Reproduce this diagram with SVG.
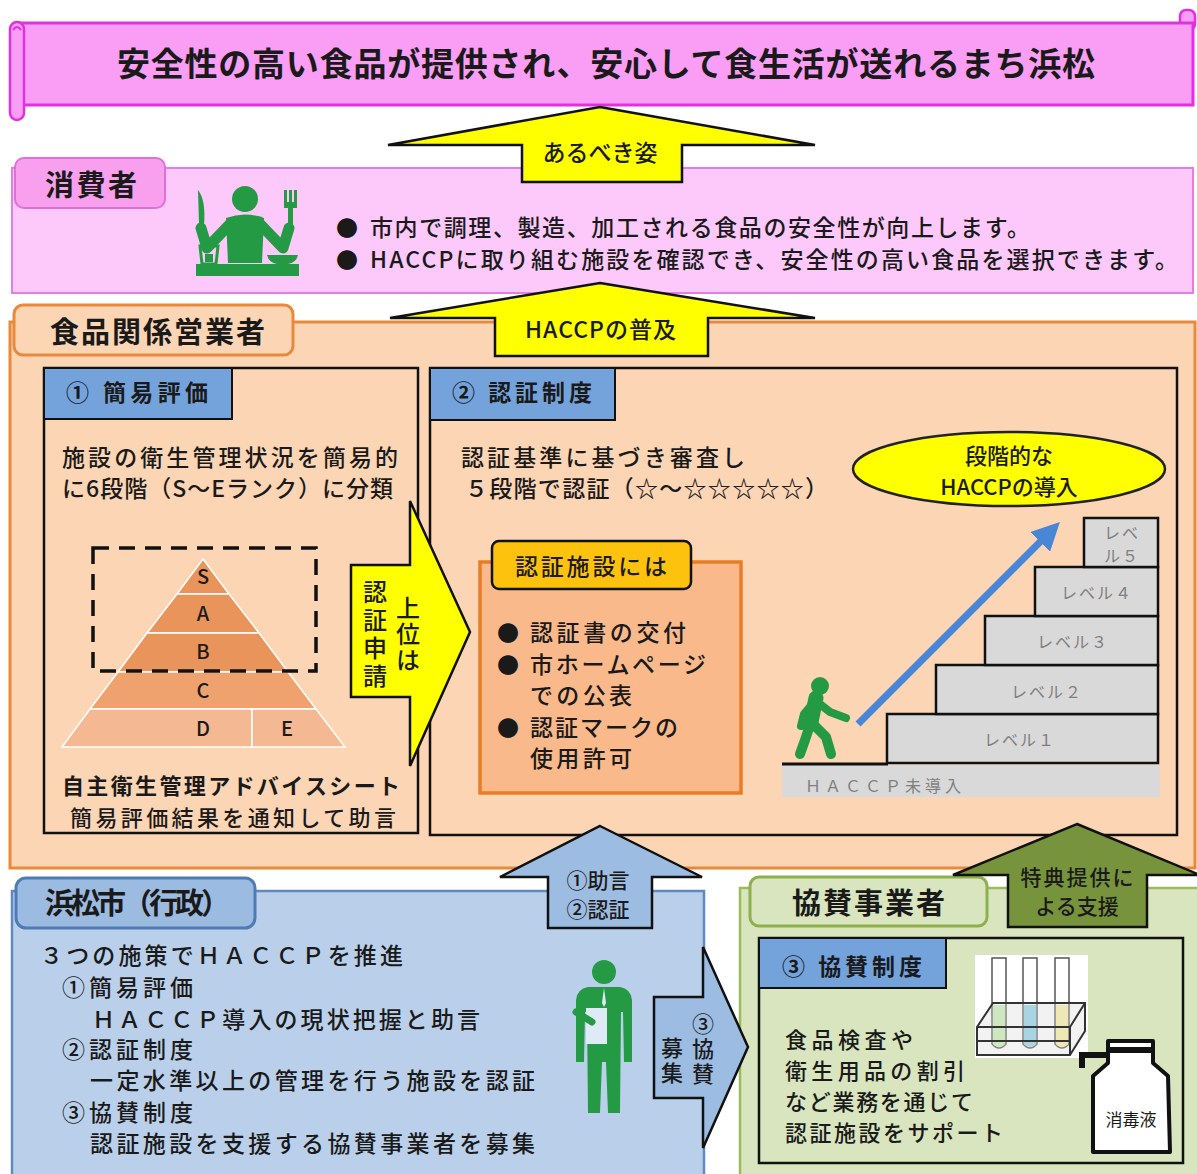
<svg xmlns="http://www.w3.org/2000/svg" width="1197" height="1174" viewBox="0 0 1197 1174">
<defs>
<style>
text{font-family:"Noto Sans CJK JP","Noto Sans",sans-serif;fill:#1a1a1a}
.b{font-weight:700}
.m{font-weight:500}
.tab{font-size:29px;font-weight:700}
.hd{font-size:23px;font-weight:700}
.body{font-size:23px;font-weight:500}
.vt{writing-mode:vertical-rl;font-weight:500}
.lv{font-size:16px;fill:#7f7f7f;font-weight:400}
.pict{fill:#259a45}
.arrowY{fill:#ffff00;stroke:#111;stroke-width:2.5;stroke-linejoin:miter}
.arrowB{fill:#9dbce2;stroke:#111;stroke-width:2.5}
.hdbox{fill:#74a3dc;stroke:#111;stroke-width:2}
.frame{fill:none;stroke:#111;stroke-width:2.5}
.step{fill:#d9d9d9;stroke:#111;stroke-width:2.5}
</style>
<marker id="ah" viewBox="0 0 10 10" refX="6" refY="5" markerWidth="4" markerHeight="4" orient="auto">
<path d="M0 0 L10 5 L0 10 Z" fill="#4a86d6"/>
</marker>
</defs>
<rect width="1197" height="1174" fill="#ffffff"/>

<!-- vision banner (scroll) -->
<g id="vision">
<rect x="1180" y="10" width="15" height="20" rx="6" fill="#f99ef4" stroke="#e030e0" stroke-width="2.5"/>
<rect x="18" y="23" width="1175" height="82" fill="#f99ef4" stroke="#e030e0" stroke-width="3"/>
<rect x="10" y="22" width="14" height="98" rx="7" fill="#f99ef4" stroke="#e030e0" stroke-width="2.5"/>
<path d="M13 30 Q17 24 21 30" fill="none" stroke="#e030e0" stroke-width="2"/>
<text x="606" y="76" font-size="33" class="b" text-anchor="middle" textLength="978" lengthAdjust="spacing">安全性の高い食品が提供され、安心して食生活が送れるまち浜松</text>
</g>

<!-- consumers -->
<g id="consumer">
<rect x="12" y="168" width="1181" height="125" fill="#fdc9fb" stroke="#e080e0" stroke-width="2"/>
<rect x="15" y="158" width="150" height="50" rx="9" fill="#f8a0ee" stroke="#e070d8" stroke-width="2"/>
<text x="45" y="196" class="tab" textLength="92" lengthAdjust="spacing">消費者</text>
<g class="pict">
<circle cx="245" cy="199" r="13"/>
<path d="M226 218 Q245 211 264 218 L262 263 L228 263 Z"/>
<path d="M230 224 L207 248 L201 228" fill="none" stroke="#259a45" stroke-width="11" stroke-linejoin="round" stroke-linecap="round"/>
<path d="M260 224 L283 248 L289 228" fill="none" stroke="#259a45" stroke-width="11" stroke-linejoin="round" stroke-linecap="round"/>
<path d="M198 190 Q206 200 204 225 L199 225 Z"/>
<rect x="284" y="190" width="3" height="14"/><rect x="289" y="190" width="3" height="14"/><rect x="294" y="190" width="3" height="14"/>
<rect x="284" y="202" width="13" height="6"/><rect x="288" y="206" width="5" height="20"/>
<rect x="196" y="264" width="103" height="12"/>
<path d="M200 246 L218 246 L216 264 L202 264 Z" fill="none" stroke="#259a45" stroke-width="3"/>
<rect x="205" y="254" width="8" height="8"/>
<path d="M267 255 L298 255 Q296 263 288 264 L277 264 Q269 263 267 255 Z"/>
</g>
<text x="336" y="236" font-size="22">●</text>
<text x="370" y="236" class="body" textLength="660" lengthAdjust="spacing">市内で調理、製造、加工される食品の安全性が向上します。</text>
<text x="336" y="268" font-size="22">●</text>
<text x="370" y="268" class="body" textLength="808" lengthAdjust="spacing">HACCPに取り組む施設を確認でき、安全性の高い食品を選択できます。</text>
</g>

<!-- food business operators -->
<g id="business">
<rect x="10" y="322" width="1185" height="546" fill="#fcd5b4" stroke="#e8893b" stroke-width="3"/>
<rect x="14" y="305" width="279" height="50" rx="9" fill="#fcd5b4" stroke="#e8893b" stroke-width="3"/>
<text x="50" y="343" class="tab" textLength="215" lengthAdjust="spacing">食品関係営業者</text>
</g>

<!-- (1) simple evaluation -->
<g id="eval">
<rect x="44" y="368" width="374" height="465" class="frame"/>
<rect x="44" y="368" width="188" height="51" class="hdbox"/>
<text x="66" y="401" class="hd" textLength="142" lengthAdjust="spacing">① 簡易評価</text>
<text x="62" y="466" class="body" textLength="336" lengthAdjust="spacing">施設の衛生管理状況を簡易的</text>
<text x="62" y="497" class="body" textLength="331" lengthAdjust="spacing">に6段階（S～Eランク）に分類</text>
<g stroke="#ffffff" stroke-width="1.5">
<path d="M203 559 L229 594 L177 594 Z" fill="#e9945b"/>
<path d="M177 594 L229 594 L259 633 L147 633 Z" fill="#e9945b"/>
<path d="M147 633 L259 633 L288 672 L118 672 Z" fill="#e9945b"/>
<path d="M118 672 L288 672 L316 709 L90 709 Z" fill="#efa26d"/>
<path d="M90 709 L252 709 L252 747 L62 747 Z" fill="#f4b893"/>
<path d="M252 709 L316 709 L345 747 L252 747 Z" fill="#f4b893"/>
</g>
<g font-size="20" text-anchor="middle" class="m">
<text x="203" y="584">S</text>
<text x="203" y="621">A</text>
<text x="203" y="659">B</text>
<text x="203" y="698">C</text>
<text x="203" y="736">D</text>
<text x="287" y="736">E</text>
</g>
<rect x="93" y="548" width="223" height="123" fill="none" stroke="#111" stroke-width="3.5" stroke-dasharray="16 10"/>
<text x="62" y="794" class="b" font-size="22" textLength="338" lengthAdjust="spacing">自主衛生管理アドバイスシート</text>
<text x="70" y="826" class="m" font-size="22" textLength="326" lengthAdjust="spacing">簡易評価結果を通知して助言</text>
</g>

<!-- (2) certification -->
<g id="cert">
<rect x="430" y="368" width="747" height="467" class="frame"/>
<rect x="430" y="368" width="185" height="52" class="hdbox"/>
<text x="452" y="401" class="hd" textLength="140" lengthAdjust="spacing">② 認証制度</text>
<text x="461" y="466" class="body" textLength="284" lengthAdjust="spacing">認証基準に基づき審査し</text>
<text x="465" y="497" class="body" textLength="363" lengthAdjust="spacing">５段階で認証（☆～☆☆☆☆☆）</text>
</g>

<g id="cert-benefits">
<rect x="480" y="562" width="261" height="231" fill="#f9b98a" stroke="#e87d26" stroke-width="3.5"/>
<rect x="492" y="541" width="199" height="48" rx="7" fill="#fdc20e" stroke="#111" stroke-width="2.5"/>
<text x="591" y="575" class="body m" text-anchor="middle" textLength="152" lengthAdjust="spacing">認証施設には</text>
<g class="body">
<text x="497" y="641" font-size="22">●</text><text x="530" y="641" textLength="156" lengthAdjust="spacing">認証書の交付</text>
<text x="497" y="673" font-size="22">●</text><text x="530" y="673" textLength="176" lengthAdjust="spacing">市ホームページ</text>
<text x="530" y="704" textLength="102" lengthAdjust="spacing">での公表</text>
<text x="497" y="736" font-size="22">●</text><text x="530" y="736" textLength="148" lengthAdjust="spacing">認証マークの</text>
<text x="530" y="767" textLength="102" lengthAdjust="spacing">使用許可</text>
</g>
</g>

<g id="stairs">
<ellipse cx="1009" cy="469" rx="156" ry="37" fill="#ffff00" stroke="#222" stroke-width="2.5"/>
<text x="1009" y="464" font-size="22" class="m" text-anchor="middle">段階的な</text>
<text x="1009" y="495" font-size="22" class="m" text-anchor="middle">HACCPの導入</text>
<rect x="782" y="765" width="378" height="32" fill="#d9d9d9"/>
<text x="805" y="792" class="lv" letter-spacing="4">ＨＡＣＣＰ未導入</text>
<line x1="782" y1="764" x2="888" y2="764" stroke="#111" stroke-width="3"/>
<rect x="887" y="714" width="271" height="49" class="step"/>
<rect x="936" y="665" width="222" height="49" class="step"/>
<rect x="985" y="616" width="173" height="49" class="step"/>
<rect x="1035" y="567" width="123" height="49" class="step"/>
<rect x="1084" y="518" width="74" height="49" class="step"/>
<text x="1020" y="746" class="lv" text-anchor="middle" letter-spacing="2">レベル１</text>
<text x="1047" y="698" class="lv" text-anchor="middle" letter-spacing="2">レベル２</text>
<text x="1073" y="648" class="lv" text-anchor="middle" letter-spacing="2">レベル３</text>
<text x="1097" y="599" class="lv" text-anchor="middle" letter-spacing="2">レベル４</text>
<text x="1122" y="539" class="lv" text-anchor="middle" letter-spacing="2">レベ</text>
<text x="1122" y="562" class="lv" text-anchor="middle" letter-spacing="2">ル５</text>
<g stroke="#259a45" stroke-linecap="round" stroke-linejoin="round" fill="none">
<path d="M816 698 L811 722" stroke-width="15"/>
<path d="M811 722 L805 740 L800 754" stroke-width="10"/>
<path d="M811 722 L826 737 L831 754" stroke-width="10"/>
<path d="M816 701 L830 712 L846 718" stroke-width="8"/>
<path d="M814 702 L804 714 L801 726" stroke-width="8"/>
</g>
<circle cx="820" cy="686" r="9" fill="#259a45"/>
</g>

<!-- Hamamatsu City (administration) -->
<g id="city">
<rect x="12" y="891" width="692" height="295" fill="#bad0ea" stroke="#5f89c0" stroke-width="2.5"/>
<rect x="16" y="878" width="239" height="50" rx="10" fill="#9cbbe1" stroke="#4f7bb5" stroke-width="3"/>
<text x="45" y="914" class="tab" textLength="185" lengthAdjust="spacing">浜松市（行政）</text>
<g class="body">
<text x="40" y="964" textLength="363" lengthAdjust="spacing">３つの施策でＨＡＣＣＰを推進</text>
<text x="62" y="996" textLength="131" lengthAdjust="spacing">①簡易評価</text>
<text x="92" y="1028" textLength="388" lengthAdjust="spacing">ＨＡＣＣＰ導入の現状把握と助言</text>
<text x="62" y="1058" textLength="131" lengthAdjust="spacing">②認証制度</text>
<text x="90" y="1089" textLength="445" lengthAdjust="spacing">一定水準以上の管理を行う施設を認証</text>
<text x="62" y="1121" textLength="131" lengthAdjust="spacing">③協賛制度</text>
<text x="90" y="1152" textLength="445" lengthAdjust="spacing">認証施設を支援する協賛事業者を募集</text>
</g>
<g class="pict">
<circle cx="604" cy="972" r="12"/>
<path d="M588 987 L620 987 Q631 989 632 1000 L632 1062 L624 1062 L623 1012 L621 1012 L620 1113 L608 1113 L606 1062 L602 1062 L600 1113 L588 1113 L587 1012 L585 1012 L584 1062 L576 1062 L576 1000 Q577 989 588 987 Z"/>
</g>
<rect x="586" y="1008" width="21" height="36" fill="#dfeaf7"/>
<path d="M604 988 L602 1003 L604 1007 L606 1003 Z" fill="#dfeaf7"/>
<path d="M576 1012 L592 1022" stroke="#259a45" stroke-width="7" stroke-linecap="round"/>
</g>

<!-- sponsor businesses -->
<g id="sponsor">
<rect x="740" y="888" width="460" height="300" fill="#d8e5be" stroke="#9cbc5c" stroke-width="2.5"/>
<rect x="750" y="877" width="237" height="49" rx="9" fill="#d8e5be" stroke="#8db04c" stroke-width="3"/>
<text x="792" y="914" class="tab" textLength="153" lengthAdjust="spacing">協賛事業者</text>
<rect x="759" y="938" width="424" height="225" class="frame"/>
<rect x="759" y="938" width="187" height="50" class="hdbox"/>
<text x="782" y="975" class="hd" textLength="140" lengthAdjust="spacing">③ 協賛制度</text>
<g class="m" font-size="22">
<text x="785" y="1048" textLength="128" lengthAdjust="spacing">食品検査や</text>
<text x="785" y="1079" textLength="180" lengthAdjust="spacing">衛生用品の割引</text>
<text x="785" y="1110" textLength="188" lengthAdjust="spacing">など業務を通じて</text>
<text x="785" y="1141" textLength="218" lengthAdjust="spacing">認証施設をサポート</text>
</g>
<!-- test tubes in a rack -->
<rect x="975" y="955" width="113" height="103" fill="#ffffff"/>
<g stroke="#555" stroke-width="1.5">
<path d="M992 958 L992 1044 Q999 1052 1006 1044 L1006 958 Z" fill="#ffffff"/>
<path d="M1023 958 L1023 1044 Q1030 1052 1037 1044 L1037 958 Z" fill="#ffffff"/>
<path d="M1055 958 L1055 1044 Q1062 1052 1069 1044 L1069 958 Z" fill="#ffffff"/>
<path d="M993 1005 L1005 1005 L1005 1044 Q999 1050 993 1044 Z" fill="#c6efb0" stroke="none"/>
<path d="M1024 1005 L1036 1005 L1036 1044 Q1030 1050 1024 1044 Z" fill="#8dd3ea" stroke="none"/>
<path d="M1056 1005 L1068 1005 L1068 1044 Q1062 1050 1056 1044 Z" fill="#f9f0a0" stroke="none"/>
</g>
<g fill="none" stroke="#333" stroke-width="2">
<path d="M977 1027 L993 1003 L1085 1003 L1085 1031 L1070 1055 L977 1055 Z" fill="#d9d9d9" fill-opacity="0.35"/>
<path d="M977 1027 L1070 1027 L1085 1003"/>
<path d="M1070 1027 L1070 1055"/>
<path d="M977 1041 L1070 1041"/>
</g>
<!-- disinfectant bottle -->
<path d="M1108 1041 L1153 1041 L1153 1063 L1168 1076 L1170 1152 L1093 1152 L1093 1076 L1108 1063 Z" fill="#ffffff" stroke="#111" stroke-width="4" stroke-linejoin="round"/>
<rect x="1108" y="1047" width="45" height="6" fill="#111"/>
<path d="M1108 1055 L1082 1055 L1082 1068" fill="none" stroke="#111" stroke-width="6"/>
<text x="1131" y="1126" font-size="17" text-anchor="middle" fill="#333">消毒液</text>
</g>

<!-- arrows between sections -->
<g id="connectors">
<path d="M600 107 L815 145 L682 145 L682 182 L522 182 L522 145 L388 145 Z" class="arrowY"/>
<text x="600" y="161" font-size="23" class="m" text-anchor="middle">あるべき姿</text>

<path d="M600 283 L815 318 L708 318 L708 356 L495 356 L495 318 L390 318 Z" class="arrowY"/>
<text x="601" y="338" font-size="23" class="m" text-anchor="middle" letter-spacing="1">HACCPの普及</text>

<path d="M351 565 L410 565 L410 501 L470 632 L410 766 L410 697 L351 697 Z" class="arrowY"/>
<text x="408" y="596" font-size="24" class="vt" letter-spacing="2">上位は</text>
<text x="375" y="580" font-size="24" class="vt" letter-spacing="4">認証申請</text>

<path d="M600 826 L702 877 L652 877 L652 928 L548 928 L548 877 L500 877 Z" class="arrowB"/>
<text x="598" y="888" font-size="21" class="m" text-anchor="middle">①助言</text>
<text x="598" y="917" font-size="21" class="m" text-anchor="middle">②認証</text>

<path d="M654 997 L703 997 L703 947 L748 1047 L703 1148 L703 1098 L654 1098 Z" class="arrowB"/>
<text x="703" y="1013" font-size="22" class="vt" letter-spacing="3">③協賛</text>
<text x="672" y="1037" font-size="22" class="vt" letter-spacing="3">募集</text>

<path d="M1077 824 L1200 875 L1147 875 L1147 927 L1008 927 L1008 875 L953 875 Z" fill="#77933c" stroke="#111" stroke-width="2.5"/>
<text x="1077" y="885" font-size="21" class="m" text-anchor="middle" textLength="113" lengthAdjust="spacing">特典提供に</text>
<text x="1077" y="914" font-size="21" class="m" text-anchor="middle">よる支援</text>

<line x1="858" y1="724" x2="1052" y2="530" stroke="#4a86d6" stroke-width="7" marker-end="url(#ah)"/>
</g>
</svg>
